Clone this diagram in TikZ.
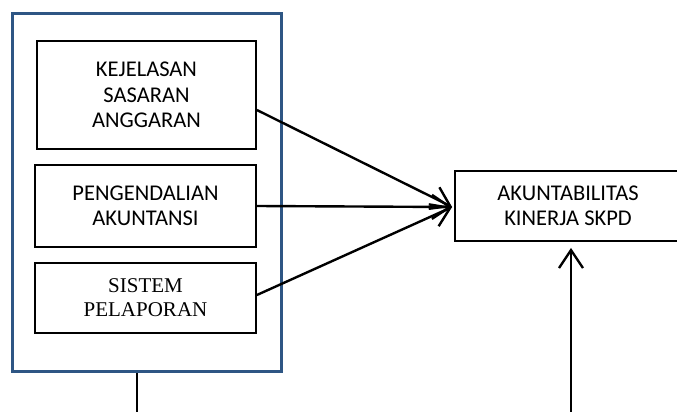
\documentclass[tikz,border=0pt]{standalone}
\usepackage{fontspec}
\setmainfont{Carlito}
\newfontfamily\serifface{Liberation Serif}
\usetikzlibrary{arrows.meta,calc}
\definecolor{frameblue}{RGB}{46,86,132}
\begin{document}
\begin{tikzpicture}[x=1pt,y=-1pt,
  box/.style={draw=black,line width=1.8pt,rectangle,inner sep=0pt,align=center,
    font=\fontsize{22.5}{25.5}\selectfont},
  conn/.style={line width=2.4pt,-{Straight Barb[length=18pt,width=24pt,line width=2.4pt]}}]
\useasboundingbox (0,0) rectangle (677,412);
\node[draw=frameblue,line width=2.6pt,minimum width=269.4pt,minimum height=358.4pt,inner sep=0pt] (outer) at (147,192.5) {};
\node[box,minimum width=219pt,minimum height=108pt] (k1) at (146.5,95) {KEJELASAN\\SASARAN\\ANGGARAN};
\node[box,minimum width=221pt,minimum height=82pt] (k2) at (145.5,206) {PENGENDALIAN\\AKUNTANSI};
\node[box,minimum width=221pt,minimum height=70pt,font=\serifface\fontsize{21}{24}\selectfont] (k3) at (145.5,298) {SISTEM\\PELAPORAN};
\node[box,minimum width=226pt,minimum height=70pt] (t) at (568,206) {AKUNTABILITAS\\KINERJA SKPD};
\coordinate (b1) at (137,415);
\coordinate (b2) at (571,415);
\draw[line width=2.4pt] (outer.south -| b1) -- (b1);
\draw[conn] ($(k1.east)+(0,15)$) -- ($(t.west)+(-2,1)$);
\draw[conn] (k2.east) -- ($(t.west)+(-2,1)$);
\draw[conn] ($(k3.east)+(0,-3)$) -- ($(t.west)+(-2,1)$);
\draw[conn] (b2) -- ($(t.south -| b2)+(0,6)$);
\end{tikzpicture}
\end{document}
